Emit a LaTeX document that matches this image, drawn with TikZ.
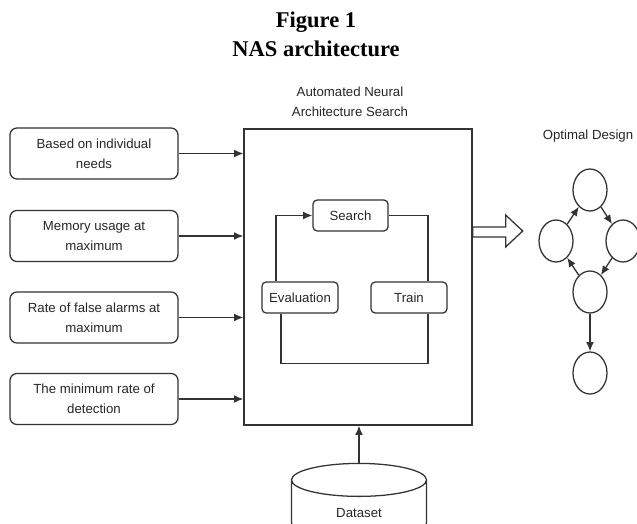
\documentclass[tikz,border=0pt]{standalone}
\usepackage{fontspec}
\setmainfont{Liberation Sans}
\newfontfamily\titlefont{Liberation Serif}
\usetikzlibrary{
  arrows.meta,
  positioning,
  calc,
  shapes.geometric
}

\begin{document}
\begin{tikzpicture}[
    x=0.025cm, y=-0.025cm,
    >={Latex[length=6.5pt,width=5.5pt]},
    every node/.style={text=black!85, font=\fontsize{9.4}{14.2}\selectfont},
    need/.style={draw=black!80, line width=0.9pt, rounded corners=5pt, minimum width=4.2cm, minimum height=1.275cm, align=center},
    nasbox/.style={draw=black!80, line width=0.9pt, minimum width=5.7cm, minimum height=7.4cm},
    stage/.style={draw=black!80, line width=0.9pt, rounded corners=3pt, minimum width=1.9cm, minimum height=0.775cm},
    gnode/.style={draw=black!80, line width=0.9pt, ellipse, minimum width=0.85cm, minimum height=1.05cm},
    seta/.style={->, line width=0.9pt, black!80},
    linha/.style={line width=0.9pt, black!80}
]
    \useasboundingbox (0,0) rectangle (637,524);

    % Title
    \node[font=\titlefont\bfseries\fontsize{16}{20}\selectfont, align=center, anchor=north, inner sep=0pt, text=black] (titulo) at (316,12) {Figure 1\\NAS architecture};

    % Requirements (left column)
    \node[need] (n1) at (94,153.5) {Based on individual\\needs};
    \node[need] (n2) at (94,236) {Memory usage at\\maximum};
    \node[need] (n3) at (94,317.5) {Rate of false alarms at\\maximum};
    \node[need] (n4) at (94,399) {The minimum rate of\\detection};

    % Search block
    \node[nasbox] (nas) at (358,277) {};
    \node[align=center, above=4.5pt of nas, xshift=-0.2cm] (nastitulo) {Automated Neural\\Architecture Search};

    \foreach \n in {n1,n2,n3,n4}
        \draw[seta] (\n.east) -- (\n.east -| nas.west);

    \node[stage, minimum width=1.875cm] (search) at (350.5,215.5) {Search};
    \node[stage] (eval) at (300,297.5) {Evaluation};
    \node[stage] (train) at (409,297.5) {Train};

    % Loop
    \draw[seta] ([xshift=-0.6cm]eval.north) |- (search.west);
    \draw[linha] (search.east) -| ([xshift=0.475cm]train.north);
    \draw[linha] ([xshift=-0.475cm]eval.south) -- ++(0,50) -| ([xshift=0.475cm]train.south);

    % Hollow arrow
    \coordinate (sai) at (nas.east |- 0,232);
    \draw[linha] (sai) ++(0,-5) -- ++(33,0) -- ++(0,-12) -- ++(17,16) -- ++(-17,16) -- ++(0,-10) -- ++(-33,0) -- cycle;

    % Optimal design
    \node (otimo) at (588,136) {Optimal Design};
    \node[gnode] (g1) at (590,190) {};
    \node[gnode] (g2) at (556,241) {};
    \node[gnode] (g3) at (623,241) {};
    \node[gnode] (g4) at (590,292) {};
    \node[gnode] (g5) at (590,373) {};
    \draw[seta] (g1) -- (g3);
    \draw[seta] (g3) -- (g4);
    \draw[seta] (g4) -- (g2);
    \draw[seta] (g2) -- (g1);
    \draw[seta] (g4) -- (g5);

    % Dataset
    \node[draw=black!80, line width=0.9pt, cylinder, shape border rotate=90, aspect=0.6, minimum width=3.375cm, minimum height=1.9cm] (dados) at (359,513) {Dataset};
    \draw[seta] (dados.top) -- (dados.top |- nas.south);

\end{tikzpicture}
\end{document}
